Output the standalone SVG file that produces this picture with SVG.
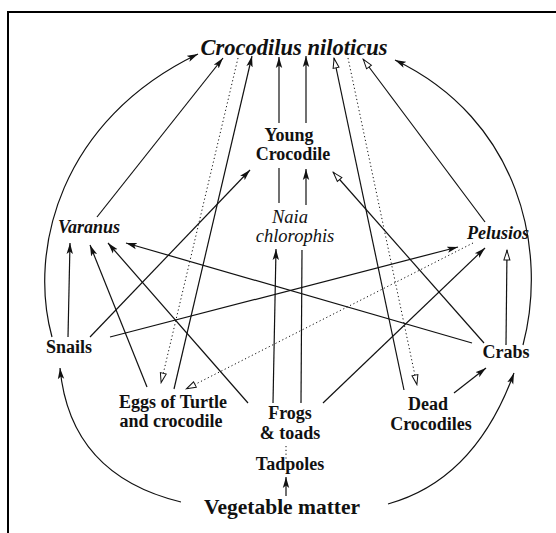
<svg xmlns="http://www.w3.org/2000/svg" width="556" height="533" viewBox="0 0 556 533">
<defs>
<marker id="ah" markerUnits="userSpaceOnUse" markerWidth="12" markerHeight="8" refX="11" refY="4" orient="auto"><path d="M0,0.8 L11,4 L0,7.2 L2.5,4 z" fill="#111"/></marker>
<marker id="ao" markerUnits="userSpaceOnUse" markerWidth="13" markerHeight="9" refX="11.5" refY="4.5" orient="auto"><path d="M1.5,1.5 L11,4.5 L1.5,7.5 z" fill="#fff" stroke="#111" stroke-width="1"/></marker>
</defs>
<style>
.t{font-family:"Liberation Serif","DejaVu Serif",serif;font-weight:bold;font-size:18px;fill:#111;text-anchor:middle}
.i{font-style:italic}
.n{font-weight:normal}
.c path{fill:none;stroke:#111;stroke-width:1.2}
.c .a{marker-end:url(#ah)}
.c .o{marker-end:url(#ao)}
.c .d{stroke-dasharray:1.2,2.6;stroke-width:1}
</style>
<rect width="556" height="533" fill="#fff"/>
<path d="M8,533 V12 H556" fill="none" stroke="#000" stroke-width="2"/>
<g id="connectors" class="c">
<path class="a" d="M52,337 C28,250 60,120 198,54"/>
<path class="a" d="M523,345 C548,250 520,120 395,60"/>
<path class="a" d="M181,502 Q70,475 60,368"/>
<path class="a" d="M388,504 Q475,480 514,373"/>
<path class="a" d="M97,217 L223,58"/>
<path class="a" d="M174,389 L252,56"/>
<path class="d o" d="M238,58 L161,383"/>
<path d="M279,203 L279,168"/>
<path class="a" d="M279,123 L279,57"/>
<path class="a" d="M306,123 L306,56"/>
<path d="M301,403 L302,250"/>
<path class="a" d="M306,205 L306,169"/>
<path class="a" d="M273,403 L276,249"/>
<path class="o" d="M404,390 L334,58"/>
<path class="d o" d="M348,58 L417,385"/>
<path class="o" d="M485,222 L363,59"/>
<path class="a" d="M68,337 L70,243"/>
<path class="a" d="M90,337 L250,170"/>
<path class="a" d="M110,337 L458,247"/>
<path class="a" d="M147,387 L90,245"/>
<path class="a" d="M248,403 L108,243"/>
<path class="a" d="M472,343 L126,243"/>
<path class="d o" d="M473,243 L186,389"/>
<path class="a" d="M323,403 L485,248"/>
<path class="o" d="M506,345 L507,250"/>
<path class="o" d="M484,343 L333,172"/>
<path class="a" d="M454,393 L486,368"/>
<path class="d" d="M286,446 L286,460"/>
<path class="a" d="M286,496 L286,477"/>
</g>
<g id="crocodilus"><text class="t i" x="294" y="55" style="font-size:22.5px">Crocodilus niloticus</text></g>
<g id="young-crocodile"><text class="t" x="289" y="141">Young</text><text class="t" x="293" y="160">Crocodile</text></g>
<g id="naia"><text class="t i n" x="290" y="223" style="font-size:18.5px">Naia</text><text class="t i n" x="295" y="242" style="font-size:18.5px">chlorophis</text></g>
<g id="varanus"><text class="t i" x="89" y="233">Varanus</text></g>
<g id="pelusios"><text class="t i" x="498" y="239">Pelusios</text></g>
<g id="snails"><text class="t" x="69" y="353">Snails</text></g>
<g id="crabs"><text class="t" x="506" y="358">Crabs</text></g>
<g id="eggs"><text class="t" x="173" y="408">Eggs of Turtle</text><text class="t" x="171" y="427">and crocodile</text></g>
<g id="frogs"><text class="t" x="290" y="419">Frogs</text><text class="t" x="290" y="439">&amp; toads</text></g>
<g id="dead-crocodiles"><text class="t" x="428" y="410">Dead</text><text class="t" x="431" y="430">Crocodiles</text></g>
<g id="tadpoles"><text class="t" x="290" y="470">Tadpoles</text></g>
<g id="vegetable"><text class="t" x="282" y="514" style="font-size:21.5px">Vegetable matter</text></g>
</svg>
